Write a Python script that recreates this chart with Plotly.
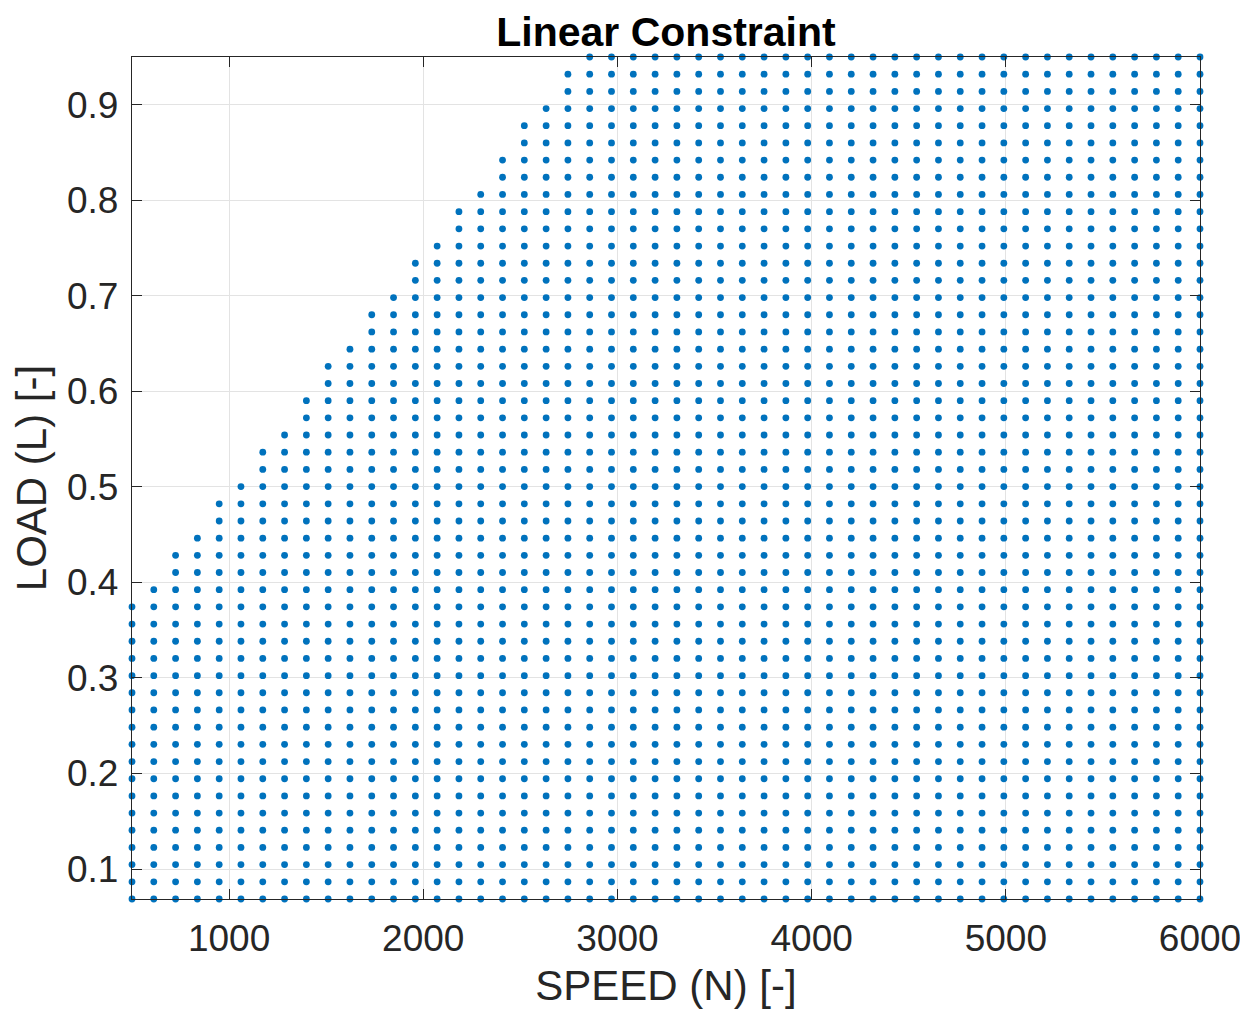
import plotly.graph_objects as go

# Grid levels
speed_levels = [500.0, 612.2, 724.5, 836.7, 949.0, 1061.2, 1173.5, 1285.7, 1398.0, 1510.2,
                1622.4, 1734.7, 1846.9, 1959.2, 2071.4, 2183.7, 2295.9, 2408.2, 2520.4, 2632.7,
                2744.9, 2857.1, 2969.4, 3081.6, 3193.9, 3306.1, 3418.4, 3530.6, 3642.9, 3755.1,
                3867.3, 3979.6, 4091.8, 4204.1, 4316.3, 4428.6, 4540.8, 4653.1, 4765.3, 4877.6,
                4989.8, 5102.0, 5214.3, 5326.5, 5438.8, 5551.0, 5663.3, 5775.5, 5887.8, 6000.0]

load_levels = [0.0686, 0.0866, 0.1046, 0.1226, 0.1406, 0.1585, 0.1765, 0.1945, 0.2125, 0.2305,
               0.2485, 0.2665, 0.2845, 0.3024, 0.3204, 0.3384, 0.3564, 0.3744, 0.3924, 0.4104,
               0.4284, 0.4463, 0.4643, 0.4823, 0.5003, 0.5183, 0.5363, 0.5543, 0.5723, 0.5902,
               0.6082, 0.6262, 0.6442, 0.6622, 0.6802, 0.6982, 0.7162, 0.7341, 0.7521, 0.7701,
               0.7881, 0.8061, 0.8241, 0.8421, 0.8601, 0.8781, 0.8960, 0.9140, 0.9320, 0.9500]

# Number of admissible load levels (from the bottom) in each speed column
points_per_column = [18, 19, 21, 22, 24, 25, 27, 28, 30, 32,
                     33, 35, 36, 38, 39, 41, 42, 44, 46, 47,
                     49, 50, 50, 50, 50, 50, 50, 50, 50, 50,
                     50, 50, 50, 50, 50, 50, 50, 50, 50, 50,
                     50, 50, 50, 50, 50, 50, 50, 50, 50, 50]

x_ticks = [1000, 2000, 3000, 4000, 5000, 6000]
y_ticks = [0.1, 0.2, 0.3, 0.4, 0.5, 0.6, 0.7, 0.8, 0.9]
y_tick_text = ["0.1", "0.2", "0.3", "0.4", "0.5", "0.6", "0.7", "0.8", "0.9"]

xs, ys = [], []
for n, count in zip(speed_levels, points_per_column):
    for load in load_levels[:count]:
        xs.append(n)
        ys.append(load)

FONT = "Liberation Sans, Arial, sans-serif"
AX = "#262626"

fig = go.Figure(go.Scatter(
    x=xs, y=ys, mode="markers",
    marker=dict(color="#0072BD", size=6.8, line=dict(width=0)),
    cliponaxis=False, showlegend=False,
))

axis_common = dict(
    showline=True, linecolor=AX, linewidth=1.3, mirror="ticks",
    ticks="inside", ticklen=10, tickwidth=1.3, tickcolor=AX,
    showgrid=True, gridcolor="#e3e3e3", gridwidth=1, zeroline=False,
    tickfont=dict(family=FONT, size=37, color=AX),
    automargin=False,
)

W, H = 1240, 1005  # page body keeps an 8 px margin

fig.update_layout(
    width=W, height=H,
    margin=dict(l=124, r=48, t=49, b=114),
    paper_bgcolor="white", plot_bgcolor="white",
    title=dict(text="<b>Linear Constraint</b>", x=0.5, xref="paper", xanchor="center",
               y=1 - 24 / H, yref="container", yanchor="middle",
               font=dict(family=FONT, size=41, color="black")),
    xaxis=dict(range=[500, 6000], tickvals=x_ticks, ticklabelstandoff=6,
               title=dict(text="SPEED (N) [-]", font=dict(family=FONT, size=42, color=AX), standoff=13),
               **axis_common),
    yaxis=dict(range=[0.0686, 0.95], tickvals=y_ticks, ticktext=y_tick_text, ticklabelstandoff=5,
               title=dict(text="LOAD (L) [-]", font=dict(family=FONT, size=42, color=AX), standoff=13),
               **axis_common),
)

fig.write_html("out.html")
